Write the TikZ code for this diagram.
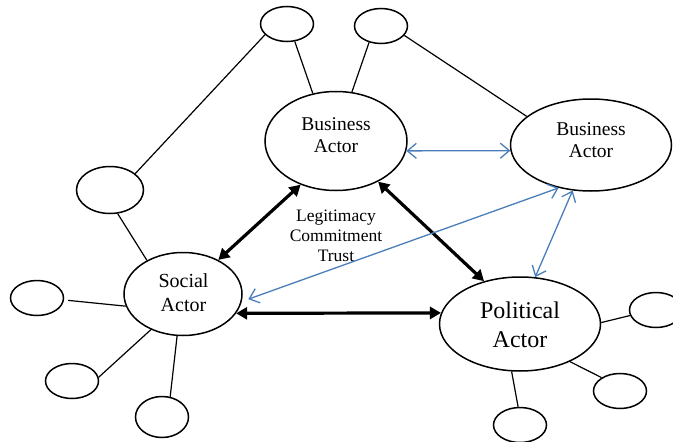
\documentclass[tikz,border=0pt]{standalone}
\usepackage{fontspec}
\setmainfont{Liberation Serif}
\usetikzlibrary{arrows.meta,shapes.geometric}
\definecolor{linkblue}{RGB}{74,126,187}
\begin{document}
\begin{tikzpicture}[x=1pt,y=-1pt,
  bubble/.style={draw,ellipse,line width=1.5pt,inner sep=0pt},
  small/.style={bubble,minimum width=53pt,minimum height=35pt},
  txt/.style={inner sep=0pt,align=center},
  tie/.style={line width=1.2pt},
  strong/.style={line width=3.2pt,{Triangle[length=11pt,width=12pt]}-{Triangle[length=11pt,width=12pt]}},
  weak/.style={line width=1.3pt,draw=linkblue,{Straight Barb[length=9pt,width=15pt]}-{Straight Barb[length=9pt,width=15pt]}}
]
\useasboundingbox (0,0) rectangle (673,442);
% main actors
\node[bubble,minimum width=142pt,minimum height=99pt] (ba) at (336,141) {};
\node[bubble,minimum width=161pt,minimum height=92pt] (br) at (591,145) {};
\node[bubble,minimum width=118pt,minimum height=83pt] (sa) at (183,294) {};
\node[bubble,minimum width=161pt,minimum height=94pt] (pa) at (520,324) {};
% texts
\node[txt,font=\fontsize{19.5}{22.7}\selectfont] (bat) at (336,135) {Business\\Actor};
\node[txt,font=\fontsize{19.5}{22.2}\selectfont] (brt) at (591,140.5) {Business\\Actor};
\node[txt,font=\fontsize{20}{24}\selectfont] (sat) at (183.5,293) {Social\\Actor};
\node[txt,font=\fontsize{24}{29}\selectfont] (pat) at (520,324.5) {Political\\Actor};
\node[txt,font=\fontsize{17.5}{20}\selectfont] (leg) at (336,236) {Legitimacy\\Commitment\\Trust};
% small bubbles
\node[small] (t1) at (287,24) {};
\node[small] (t2) at (381,26) {};
\node[bubble,minimum width=67pt,minimum height=47pt] (lm) at (110,190) {};
\node[small] (l) at (37,298) {};
\node[small] (bl1) at (72,381) {};
\node[bubble,minimum width=53pt,minimum height=41pt] (bl2) at (162,417) {};
\node[small] (r) at (656,310) {};
\node[small] (br1) at (620,391) {};
\node[small] (br2) at (520,425) {};
% thin ties
\draw[tie] (t1.206) -- (lm.33);
\draw[tie] (t1.294) -- (ba.116);
\draw[tie] (t2.234) -- (ba.72);
\draw[tie] (t2.338) -- (br.156);
\draw[tie] (lm.288) -- (sa.137);
\draw[tie] ([xshift=4pt]l.-5) -- (sa.192);
\draw[tie] (bl1.8) -- (sa.228);
\draw[tie] (bl2.68) -- (sa.262);
\draw[tie] (pa.1) -- (r.192);
\draw[tie] (pa.323) -- (br1.144);
\draw[tie] (pa.260) -- (br2.96);
% strong links
\draw[strong] (ba.231) -- (sa.44);
\draw[strong] (ba.316) -- (pa.130);
\draw[strong] (sa.-20) -- (pa.172);
% weak links
\draw[weak] (ba.-8) -- (br.184);
\draw[weak] ([xshift=6pt]sa.-5) -- (br.233);
\draw[weak] (pa.72) -- (br.248);
\end{tikzpicture}
\end{document}
